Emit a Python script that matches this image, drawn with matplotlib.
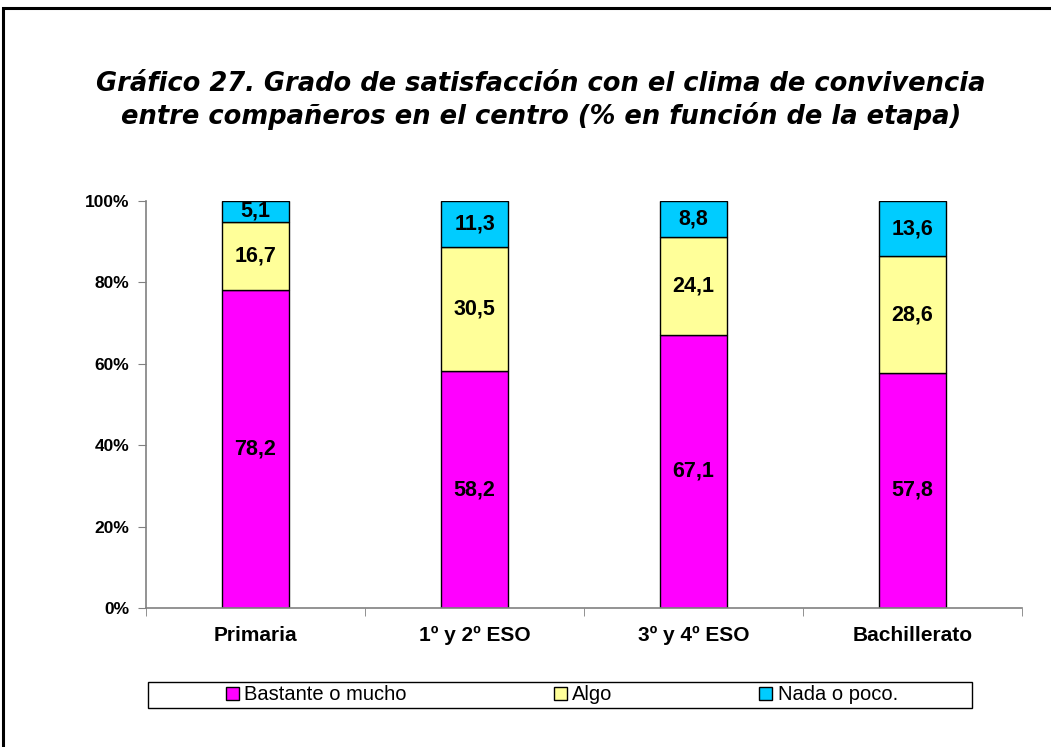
import matplotlib
matplotlib.use("Agg")
import matplotlib.pyplot as plt
from matplotlib.patches import Rectangle, Patch
import numpy as np

categories = ["Primaria", "1º y 2º ESO", "3º y 4º ESO", "Bachillerato"]
series_names = ["Bastante o mucho", "Algo", "Nada o poco."]
bastante = [78.2, 58.2, 67.1, 57.8]
algo = [16.7, 30.5, 24.1, 28.6]
nada = [5.1, 11.3, 8.8, 13.6]
colors = ["#FF00FF", "#FFFF99", "#00CCFF"]
yticks = [0, 20, 40, 60, 80, 100]

plt.rcParams['font.family'] = ['Liberation Sans', 'DejaVu Sans']

W, H = 1051, 747
fig = plt.figure(figsize=(W / 100, H / 100), dpi=100)

# outer frame
fig.patches.append(Rectangle((3 / W, -0.01), 1.05, 1 - 8 / H + 0.01, transform=fig.transFigure,
                             fill=False, edgecolor="black", linewidth=2.2))

ax = fig.add_axes([146 / W, 1 - 608 / H, (1022 - 146) / W, (608 - 201) / H])
x = np.arange(len(categories))
width = 0.31
bottom = np.zeros(len(categories))
for vals, col, name in zip([bastante, algo, nada], colors, series_names):
    ax.bar(x, vals, width, bottom=bottom, color=col, edgecolor="black", linewidth=1.0, label=name)
    for xi, b, v in zip(x, bottom, vals):
        ax.text(xi, b + v / 2, f"{v:.1f}".replace(".", ","), ha="center", va="center",
                fontsize=15.5, fontweight="bold", color="black")
    bottom += np.array(vals)

ax.set_xlim(-0.5, len(categories) - 0.5)
ax.set_ylim(0, 100)
ax.set_yticks(yticks)
ax.set_yticklabels([f"{t}%" for t in yticks], fontsize=12.5, fontweight="bold")
ax.set_xticks(x)
ax.set_xticklabels(categories, fontsize=15, fontweight="bold")
ax.tick_params(axis="x", length=0, pad=13)
ax.set_xticks(np.arange(-0.5, len(categories), 1.0), minor=True)
ax.tick_params(axis="x", which="minor", length=6, direction="out", color="#808080")
ax.tick_params(axis="y", length=6, direction="out", color="#808080", pad=6)
for s in ["top", "right"]:
    ax.spines[s].set_visible(False)
for s in ["left", "bottom"]:
    ax.spines[s].set_color("#808080")
    ax.spines[s].set_linewidth(1.2)

title_font = dict(ha="center", va="center", fontsize=18.5, fontweight="bold", style="italic",
                  family=["DejaVu Sans"])
fig.text(541 / W, 1 - 84 / H, "Gráfico 27. Grado de satisfacción con el clima de convivencia", **title_font)
fig.text(541 / W, 1 - 116 / H, "entre compañeros en el centro (% en función de la etapa)", **title_font)

# legend box
fig.patches.append(Rectangle((148 / W, 1 - 708 / H), (972 - 148) / W, 26 / H, transform=fig.transFigure,
                             fill=False, edgecolor="black", linewidth=1.0))
handles = [Patch(facecolor=c, edgecolor="black", linewidth=1.0) for c in colors]
leg = fig.legend(handles, series_names, loc="center", bbox_to_anchor=(562 / W, 1 - 695 / H),
                 ncol=3, frameon=False, fontsize=14.5,
                 handlelength=0.65, handleheight=0.65, handletextpad=0.25, columnspacing=7.3,
                 borderpad=0.1)

fig.savefig("out.png", dpi=100, facecolor="white")
